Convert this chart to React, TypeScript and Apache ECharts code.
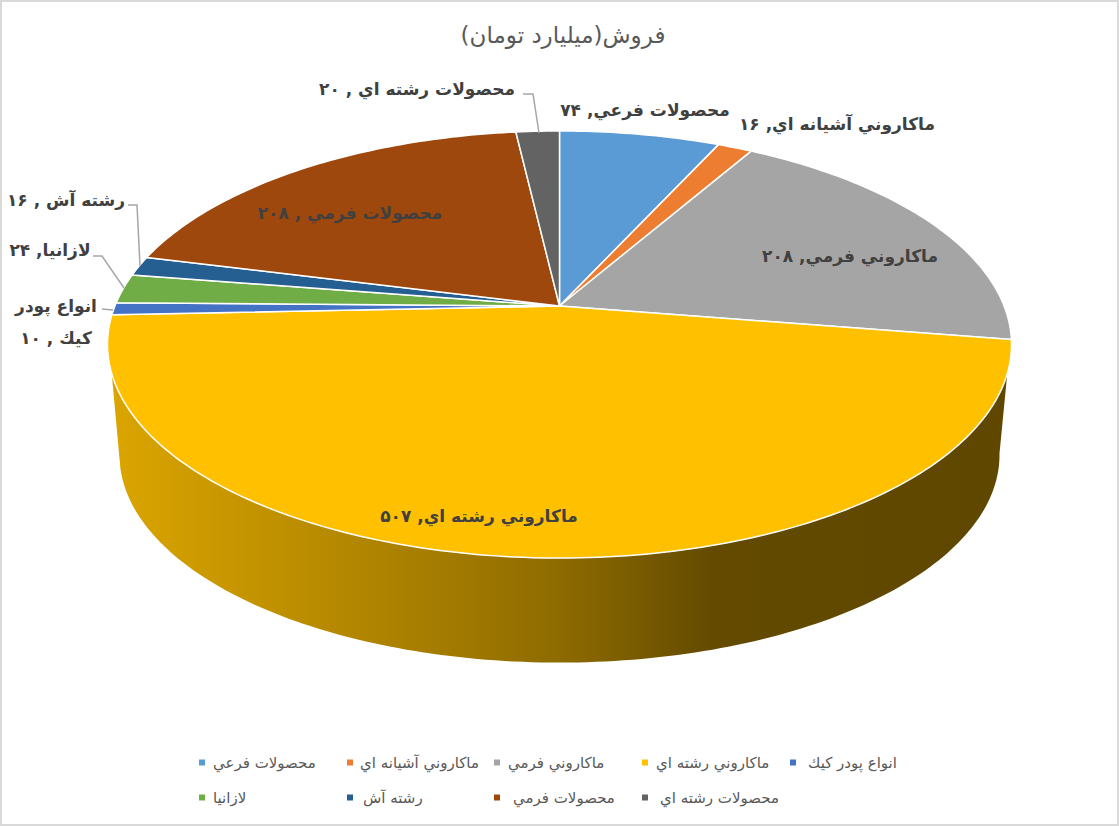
import React, { useEffect, useRef } from "react";
import * as echarts from "echarts";

const TITLE = "فروش(ميليارد تومان)";
// trailing spaces in some names are what produce the " , " form of their labels
const CATEGORIES = [
  "محصولات فرعي",
  "ماكاروني آشيانه اي",
  "ماكاروني فرمي",
  "ماكاروني رشته اي",
  "انواع پودر كيك ",
  "لازانيا",
  "رشته آش ",
  "محصولات فرمي ",
  "محصولات رشته اي ",
];
const VALUES = [74, 16, 208, 507, 10, 24, 16, 208, 20];
const COLORS = ["#5B9BD5", "#ED7D31", "#A5A5A5", "#FFC000", "#4472C4", "#70AD47", "#255E91", "#9E480E", "#636363"];

// layout (not data)
const LABEL_CENTERS = [[645, 110], [837, 124], [850, 256], [479, 516], [56, 322], [50, 250], [66, 200], [350, 213], [417, 89]];
const LEADERS: number[][][] = [[], [], [], [], [[102, 309], [113, 310]], [[93, 256], [102, 256], [124, 288]], [[128, 205], [137, 205], [140, 266]], [], [[523, 94], [533, 94], [539, 133]]];
const LEGEND_POS = [[199, 755], [347, 755], [494, 755], [642, 755], [790, 755], [199, 790], [347, 790], [494, 790], [642, 790]];
const LEGEND_TEXT_GAP = [3, 2, 3, 3, 7, 3, 5, 8, 7];
const FONT = '"DejaVu Sans", sans-serif';

const CX = 559.5, K = 0.1803;
const TOP = { cy: 306, a: 444.6, b: 206.6 };
const BOTTOM = { cy: 417.6, a: 432.8, b: 200.8 };
const TOTAL = VALUES.reduce((s, v) => s + v, 0);

function project(p: { cy: number; a: number; b: number }, deg: number) {
  const r = (deg * Math.PI) / 180;
  const w = 1 + K * Math.cos(r);
  return [CX + (p.a * Math.sin(r)) / w, p.cy - (p.b * Math.cos(r)) / w];
}
function arc(p: { cy: number; a: number; b: number }, from: number, to: number) {
  const n = Math.max(2, Math.ceil(Math.abs(to - from)));
  const pts: number[][] = [];
  for (let i = 0; i <= n; i++) pts.push(project(p, from + ((to - from) * i) / n));
  return pts;
}
function persian(n: number) {
  return String(n).replace(/\d/g, (d) => "۰۱۲۳۴۵۶۷۸۹"[+d]);
}
function labelText(i: number) {
  const t = CATEGORIES[i] + ", " + persian(VALUES[i]);
  return i === 4 ? t.replace("پودر ", "پودر\n") : t;
}

const WALL_INDEX = 3;
function makeRender(i: number) {
  const before = VALUES.slice(0, i).reduce((s, v) => s + v, 0);
  return (_params: any, api: any) => {
    const start = (before / TOTAL) * 360;
    const end = ((before + api.value(0)) / TOTAL) * 360;
    const children: any[] = [];
    if (i === WALL_INDEX) {
      const wall = [...arc(TOP, 108, 252), ...arc(BOTTOM, 256, 100)];
      children.push({
        type: "polygon",
        shape: { points: wall },
        style: {
          fill: new echarts.graphic.LinearGradient(107, 0, 1012, 0, [
            { offset: 0, color: "#DCA600" },
            { offset: 0.38, color: "#A27A00" },
            { offset: 0.5, color: "#8E6B00" },
            { offset: 0.67, color: "#634A00" },
            { offset: 1, color: "#5F4700" },
          ], true as any),
          stroke: null,
        },
      });
    }
    children.push({
      type: "polygon",
      shape: { points: [[CX, TOP.cy], ...arc(TOP, start, end)] },
      style: { fill: COLORS[i], stroke: "#FFFFFF", lineWidth: 1.5, lineJoin: "round" },
    });
    if (LEADERS[i].length) {
      children.push({
        type: "polyline",
        shape: { points: LEADERS[i] },
        style: { fill: null, stroke: "#A6A6A6", lineWidth: 1.5 },
      });
    }
    children.push({
      type: "text",
      style: {
        x: LABEL_CENTERS[i][0],
        y: LABEL_CENTERS[i][1],
        text: labelText(i),
        fill: "#404040",
        fontSize: 17,
        fontWeight: "bold",
        fontFamily: FONT,
        align: "center",
        verticalAlign: "middle",
        lineHeight: 32,
      },
    });
    return { type: "group", children };
  };
}

export default function App() {
  const ref = useRef<HTMLDivElement>(null);
  useEffect(() => {
    document.body.style.margin = "0";
    document.body.style.overflow = "hidden";
    const chart = echarts.init(ref.current!, null, { renderer: "svg" });
    chart.setOption({
      animation: false,
      backgroundColor: "#FFFFFF",
      title: {
        text: TITLE,
        left: 558,
        top: 18,
        textAlign: "center",
        textStyle: { fontSize: 23, fontWeight: "normal", color: "#595959", fontFamily: FONT },
      },
      legend: CATEGORIES.map((c, i) => ({
        data: [c],
        left: LEGEND_POS[i][0],
        top: LEGEND_POS[i][1],
        padding: 0,
        icon: "rect",
        itemWidth: 6,
        itemHeight: 6,
        selectedMode: false,
        textStyle: { fontSize: 15, color: "#595959", fontFamily: FONT, padding: [0, 0, 0, LEGEND_TEXT_GAP[i]] },
      })),
      graphic: [
        {
          type: "rect",
          shape: { x: 1, y: 1, width: 1117, height: 824 },
          style: { fill: "none", stroke: "#D9D9D9", lineWidth: 2 },
          silent: true,
        },
      ],
      series: CATEGORIES.map((c, i) => ({
        type: "custom",
        name: c,
        coordinateSystem: "none",
        itemStyle: { color: COLORS[i] },
        data: [[VALUES[i]]],
        renderItem: makeRender(i),
      })),
    });
    return () => chart.dispose();
  }, []);
  return <div ref={ref} style={{ width: 1119, height: 826 }} />;
}
